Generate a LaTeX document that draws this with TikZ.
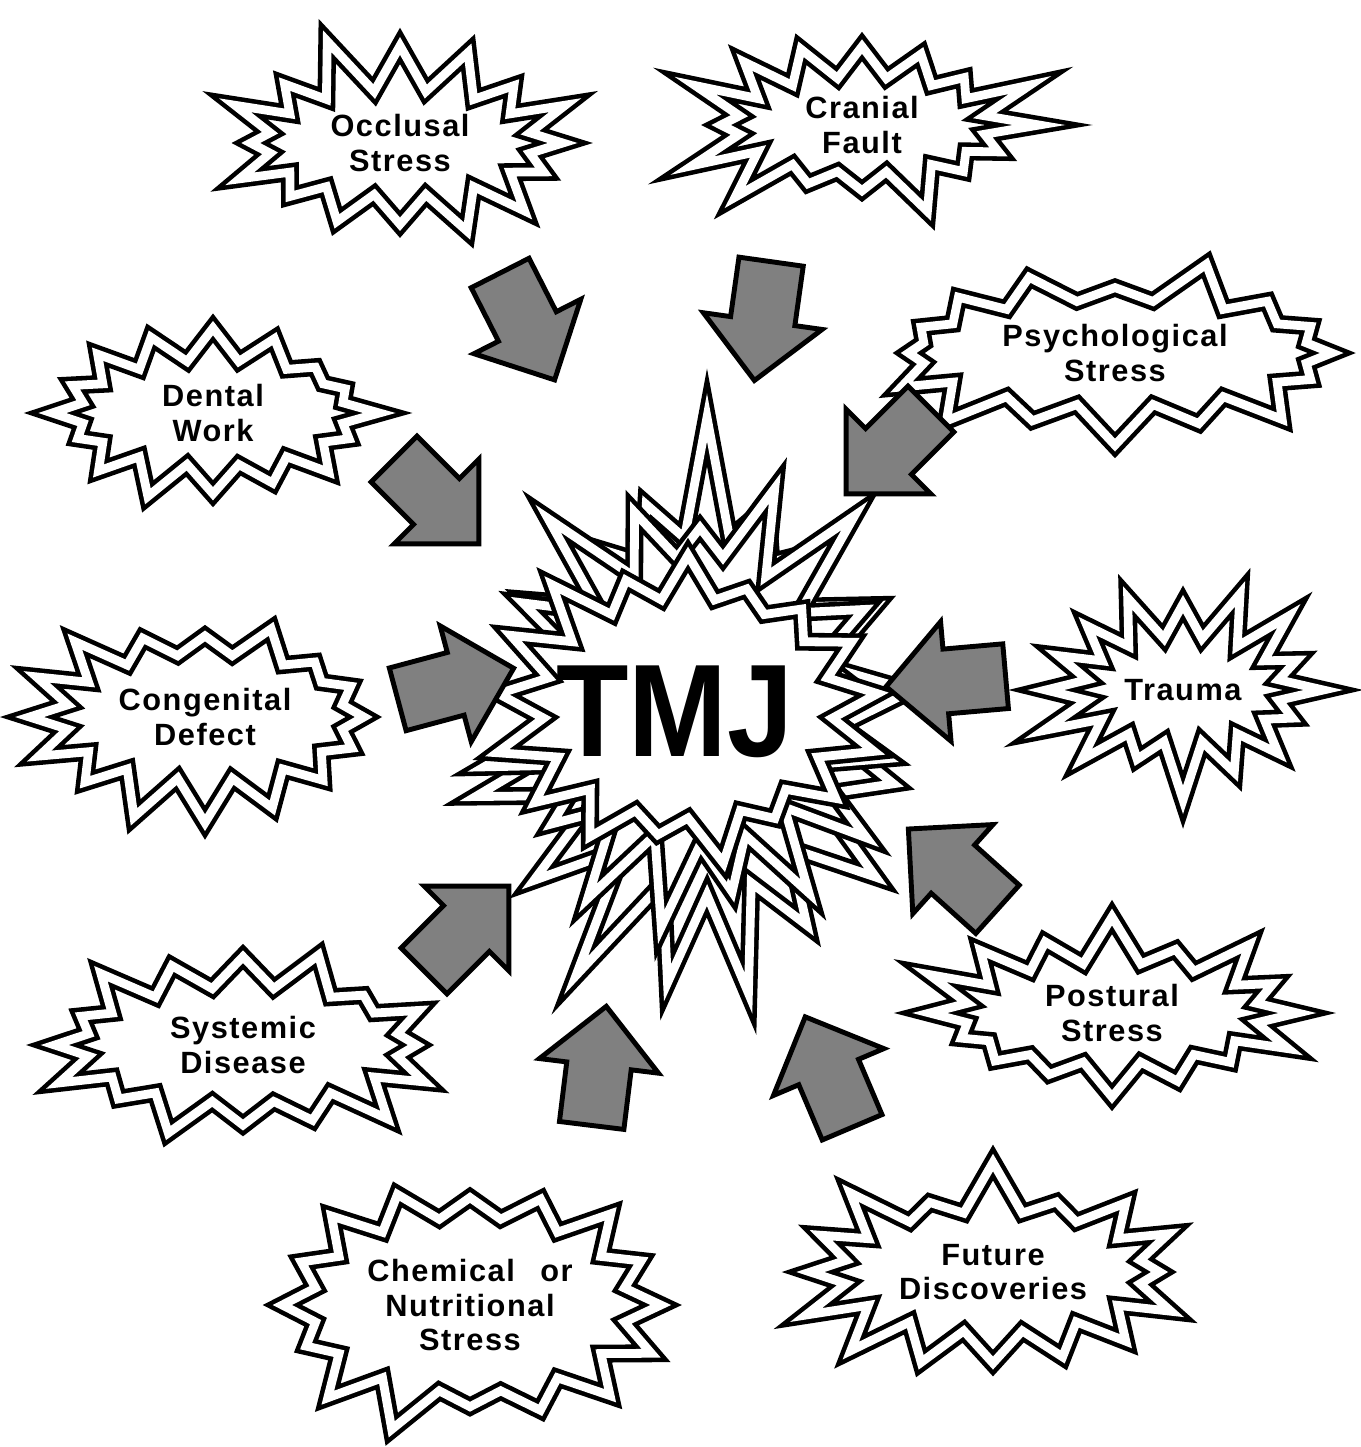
\documentclass[tikz,border=0pt]{standalone}
\usepackage{fontspec}
\setmainfont{Liberation Sans}[LetterSpace=5]
\newfontfamily\tmjfont{Liberation Sans}
\usepackage{graphicx}
\usetikzlibrary{shapes.symbols,shapes.arrows}
\begin{document}
\begin{tikzpicture}[x=0.02cm,y=-0.02cm, every node/.style={font=\fontsize{17.5}{19.5}\selectfont\bfseries,align=center}, burst/.style={starburst,draw=black,fill=white,line width=2.6pt,double=white,double distance=5pt,starburst points=16,starburst point height=1.05cm,inner sep=0pt}, push/.style={single arrow,draw=black,fill=black!50,line width=2.8pt,minimum height=2.4cm,single arrow head extend=0.55cm,inner xsep=0pt,inner ysep=0.6cm}]
\useasboundingbox (0,0) rectangle (1361,1447);
\node[burst,minimum width=7.7cm,minimum height=4.5cm,random starburst=11,starburst point height=1.2cm] (occ) at (400,143) {Occlusal\\Stress};
\node[burst,minimum width=7.4cm,minimum height=4.3cm,random starburst=12,starburst point height=1.2cm] (cra) at (862,125) {Cranial\\Fault};
\node[burst,minimum width=9.6cm,minimum height=3.9cm,random starburst=13,starburst point height=0.9cm] (psy) at (1115,353) {Psychological\\Stress};
\node[burst,minimum width=6.9cm,minimum height=3.7cm,random starburst=14,starburst point height=0.8cm] (den) at (213,413) {Dental\\Work};
\node[burst,minimum width=6.2cm,minimum height=4.4cm,random starburst=15,starburst point height=1.15cm] (tra) at (1183,690) {Trauma};
\node[burst,minimum width=7.7cm,minimum height=4.6cm,random starburst=16] (con) at (205,717) {Congenital\\Defect};
\node[burst,minimum width=8cm,minimum height=4.1cm,random starburst=17] (pos) at (1112,1013) {Postural\\Stress};
\node[burst,minimum width=8.2cm,minimum height=4.2cm,random starburst=18,starburst point height=0.95cm] (sys) at (243,1045) {Systemic\\Disease};
\node[burst,minimum width=8.2cm,minimum height=5.4cm,random starburst=19,starburst point height=0.95cm] (che) at (470,1305) {Chemical\hspace{0.5em} or\\Nutritional\\Stress};
\node[burst,minimum width=8.1cm,minimum height=4.5cm,random starburst=20] (fut) at (993,1272) {Future\\Discoveries};
\node[burst,minimum width=10.1cm,minimum height=12.4cm,random starburst=7,starburst points=17,starburst point height=2.6cm] (tmjA) at (707,715) {};
\node[burst,minimum width=9.2cm,minimum height=10cm,random starburst=23,starburst points=17,starburst point height=2.1cm] (tmjB) at (700,700) {};
\node[burst,minimum width=8.4cm,minimum height=7cm,random starburst=41,starburst points=17,starburst point height=1.3cm] (tmjC) at (688,708) {};
\node[font=\tmjfont\bfseries\fontsize{75}{75}\selectfont] (tmj) at (675,712) {\scalebox{0.9}[1]{TMJ}};
\node[push,rotate=-63] (aOcc) at (520,312) {};
\node[push,rotate=-98] (aCra) at (765,305) {};
\node[push,rotate=-135] (aPsy) at (900,440) {};
\node[push,rotate=-45] (aDen) at (425,490) {};
\node[push,rotate=15] (aCon) at (440,688) {};
\node[push,rotate=185] (aTra) at (962,680) {};
\node[push,rotate=138] (aPos) at (965,880) {};
\node[push,rotate=45] (aSys) at (455,940) {};
\node[push,rotate=83] (aChe) at (597,1082) {};
\node[push,rotate=113] (aFut) at (835,1087) {};
\end{tikzpicture}
\end{document}
